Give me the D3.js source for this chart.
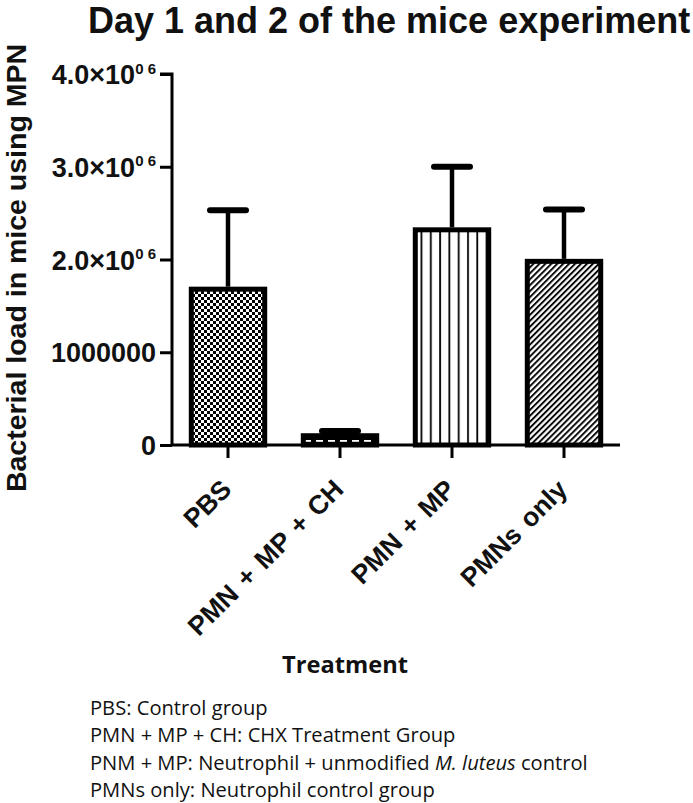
<!DOCTYPE html>
<html>
<head>
<meta charset="utf-8">
<script src="https://cdn.jsdelivr.net/npm/d3@7"></script>
<style>
  html, body { margin: 0; padding: 0; background: #fff; }
  svg { display: block; }
</style>
</head>
<body>
<svg id="chart" width="693" height="803"></svg>
<script>
// ---- data ----
const categories = ["PBS", "PMN + MP + CH", "PMN + MP", "PMNs only"];
const means = [1680000, 100000, 2320000, 1980000];
const sems = [850000, 50000, 680000, 560000];
const patterns = ["checker", "coarse", "vlines", "diag"];
const yTickValues = [0, 1000000, 2000000, 3000000, 4000000];
const yTickMain = ["0", "1000000", "2.0×10", "3.0×10", "4.0×10"];
const yTickSup = ["", "", "0 6", "0 6", "0 6"];
const titleText = "Day 1 and 2 of the mice experiment";
const yLabelText = "Bacterial load in mice using MPN";
const xLabelText = "Treatment";
const notes = [
  [{t: "PBS: Control group"}],
  [{t: "PMN + MP + CH: CHX Treatment Group"}],
  [{t: "PNM + MP: Neutrophil + unmodified "}, {t: "M. luteus", i: true}, {t: " control"}],
  [{t: "PMNs only: Neutrophil control group"}]
];

// ---- layout ----
const svg = d3.select("#chart");
const plotLeft = 172, plotRight = 620, plotTop = 74, plotBottom = 445;
const x = d3.scaleBand().domain(categories).range([plotLeft, plotRight]).paddingInner(0.3).paddingOuter(0.15);
const y = d3.scaleLinear().domain([0, 4000000]).range([plotBottom, plotTop]);
const arial = "'Liberation Sans', Arial, sans-serif";
const body = "'Open Sans', Lato, sans-serif";

// scale a text element's font size so that its width matches a target width
function fitWidth(sel, target) {
  const node = sel.node();
  const fs = parseFloat(sel.attr("font-size"));
  const w = node.getComputedTextLength();
  if (w > 0) sel.attr("font-size", (fs * target / w).toFixed(2));
  return parseFloat(sel.attr("font-size"));
}

// ---- patterns ----
const defs = svg.append("defs");
const p1 = defs.append("pattern").attr("id", "checker").attr("patternUnits", "userSpaceOnUse")
  .attr("width", 6).attr("height", 6);
p1.append("rect").attr("width", 6).attr("height", 6).attr("fill", "#fff");
p1.append("rect").attr("width", 3).attr("height", 3).attr("fill", "#000");
p1.append("rect").attr("x", 3).attr("y", 3).attr("width", 3).attr("height", 3).attr("fill", "#000");

const p2 = defs.append("pattern").attr("id", "coarse").attr("patternUnits", "userSpaceOnUse")
  .attr("width", 12).attr("height", 8).attr("x", 2).attr("y", -3);
p2.append("rect").attr("width", 12).attr("height", 8).attr("fill", "#000");
p2.append("rect").attr("x", 2).attr("y", 3).attr("width", 7).attr("height", 1.8).attr("fill", "#fff");

const p3 = defs.append("pattern").attr("id", "vlines").attr("patternUnits", "userSpaceOnUse")
  .attr("width", 9.3).attr("height", 10).attr("x", 1);
p3.append("rect").attr("width", 9.3).attr("height", 10).attr("fill", "#fff");
p3.append("line").attr("x1", 2).attr("x2", 2).attr("y1", 0).attr("y2", 10)
  .attr("stroke", "#000").attr("stroke-width", 1.8);

const p4 = defs.append("pattern").attr("id", "diag").attr("patternUnits", "userSpaceOnUse")
  .attr("width", 4.2).attr("height", 10).attr("patternTransform", "rotate(45)");
p4.append("rect").attr("width", 4.2).attr("height", 10).attr("fill", "#fff");
p4.append("line").attr("x1", 1).attr("x2", 1).attr("y1", 0).attr("y2", 10)
  .attr("stroke", "#000").attr("stroke-width", 1.9);

// ---- title ----
svg.append("text").attr("x", 88).attr("y", 33)
  .attr("font-family", arial).attr("font-weight", "bold").attr("font-size", 36)
  .attr("fill", "#111").text(titleText);

// ---- bars ----
const sw = 5;
const data = categories.map((c, i) => ({c, m: means[i], s: sems[i], p: patterns[i]}));
const g = svg.append("g");
g.selectAll("rect.bar").data(data).join("rect").attr("class", "bar")
  .attr("x", d => x(d.c) + sw / 2)
  .attr("width", x.bandwidth() - sw)
  .attr("y", d => y(d.m))
  .attr("height", d => y(0) - y(d.m))
  .attr("fill", d => `url(#${d.p})`)
  .attr("stroke", "#000").attr("stroke-width", sw);

// error bars
g.selectAll("line.err").data(data).join("line").attr("class", "err")
  .attr("x1", d => x(d.c) + x.bandwidth() / 2).attr("x2", d => x(d.c) + x.bandwidth() / 2)
  .attr("y1", d => y(d.m) - sw / 2).attr("y2", d => y(d.m + d.s))
  .attr("stroke", "#000").attr("stroke-width", 4.5);
g.selectAll("line.cap").data(data).join("line").attr("class", "cap")
  .attr("x1", d => x(d.c) + x.bandwidth() / 2 - 18).attr("x2", d => x(d.c) + x.bandwidth() / 2 + 18)
  .attr("y1", d => y(d.m + d.s)).attr("y2", d => y(d.m + d.s))
  .attr("stroke", "#000").attr("stroke-width", 6).attr("stroke-linecap", "round");

// ---- axes ----
const yAxis = d3.axisLeft(y).tickValues(yTickValues).tickSize(12).tickFormat("");
const ya = svg.append("g").attr("transform", `translate(${plotLeft},0)`).call(yAxis);
ya.select(".domain").attr("d", `M-12,${plotTop}H0V${plotBottom}`).attr("stroke-width", 3);
ya.selectAll(".tick line").attr("stroke-width", 3);

ya.selectAll(".tick").append("text")
  .attr("x", -16).attr("y", 0).attr("dy", "0.36em")
  .attr("text-anchor", "end").attr("fill", "#111")
  .attr("font-family", arial).attr("font-weight", "bold").attr("font-size", 27)
  .each(function(d, i) {
    const t = d3.select(this);
    t.append("tspan").text(yTickMain[i]);
    if (yTickSup[i]) {
      t.append("tspan").attr("font-size", 15).attr("dy", "-0.7em").text(yTickSup[i]);
    }
  });

const xAxis = d3.axisBottom(x).tickSize(13).tickFormat("");
const xa = svg.append("g").attr("transform", `translate(0,${plotBottom})`).call(xAxis);
xa.select(".domain").attr("d", `M${plotLeft},0H${plotRight}`).attr("stroke-width", 3);
xa.selectAll(".tick line").attr("stroke-width", 3);
xa.selectAll(".tick").append("text")
  .attr("transform", "translate(5,46) rotate(-45)")
  .attr("text-anchor", "end").attr("fill", "#111")
  .attr("font-family", arial).attr("font-weight", "bold").attr("font-size", 26.5)
  .attr("word-spacing", 2.5)
  .text(d => d);

// ---- axis labels ----
svg.append("text").attr("transform", `translate(26,268) rotate(-90)`)
  .attr("text-anchor", "middle").attr("fill", "#111")
  .attr("font-family", arial).attr("font-weight", "bold").attr("font-size", 28.5)
  .text(yLabelText);

const xl = svg.append("text").attr("x", 345).attr("y", 673).attr("text-anchor", "middle")
  .attr("font-family", body).attr("font-weight", "bold").attr("font-size", 23).attr("fill", "#111")
  .text(xLabelText);
fitWidth(xl, 126);

// ---- notes ----
const noteSel = notes.map((line, i) => {
  const t = svg.append("text").attr("x", 90).attr("y", 715 + i * 27.3)
    .attr("font-family", body).attr("font-size", 18).attr("fill", "#111");
  line.forEach(seg => {
    const s = t.append("tspan").text(seg.t);
    if (seg.i) s.attr("font-style", "italic");
  });
  return t;
});
const nfs = fitWidth(noteSel[2], 498);
noteSel.forEach(t => t.attr("font-size", nfs));
</script>
</body>
</html>
